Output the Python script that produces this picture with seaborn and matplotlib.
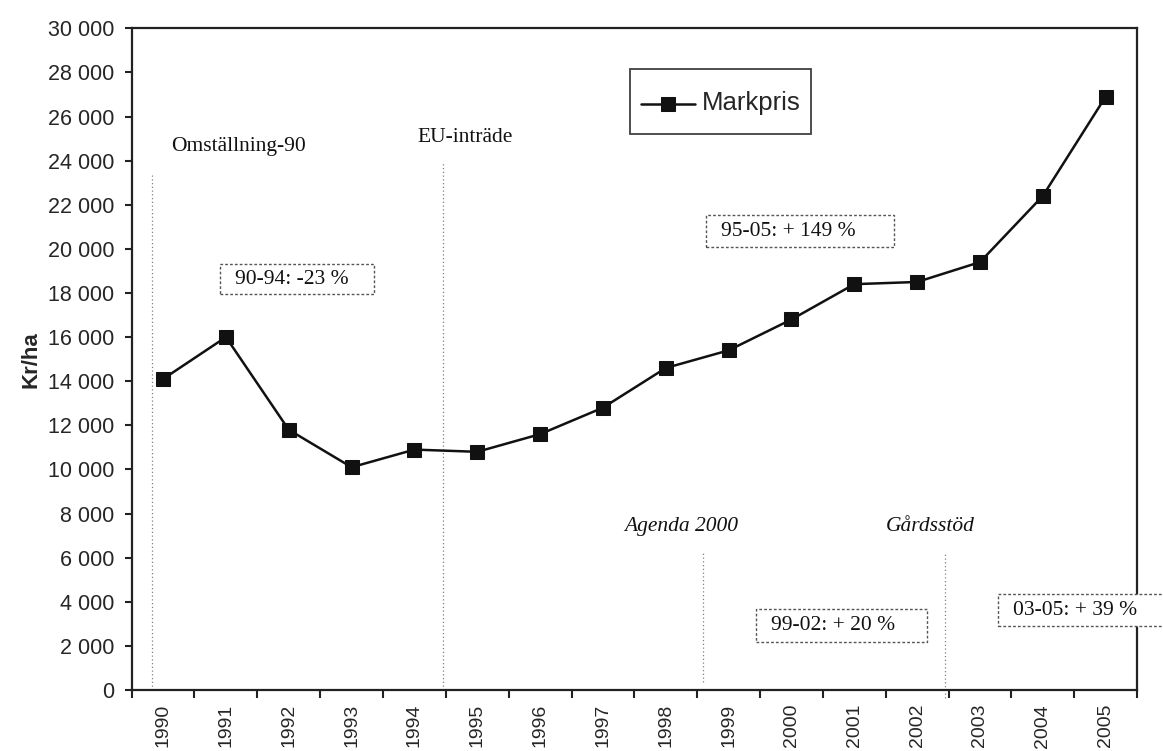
import matplotlib
matplotlib.use("Agg")
import matplotlib.pyplot as plt
from matplotlib.patches import Rectangle
from matplotlib.ticker import FixedLocator, FuncFormatter
import numpy as np
import seaborn as sns
import pandas as pd

# Land price per hectare, 1990-2005
years = [str(y) for y in range(1990, 2006)]
markpris = [14100, 16000, 11800, 10100, 10900, 10800, 11600, 12800,
            14600, 15400, 16800, 18400, 18500, 19400, 22400, 26900]

# Policy events: label, x position (category units), line top, line bottom
event_labels = ["Omställning-90", "EU-inträde", "Agenda 2000", "Gårdsstöd"]
event_x = [-0.18, 4.45, 8.59, 12.45]
event_top = [23440, 23900, 6250, 6250]
event_bottom = [0, 0, 360, -360]
event_text_x = [0.13, 4.04, 7.33, 11.5]
event_text_y = [24660, 25070, 7430, 7430]
event_italic = [False, False, True, True]

# Period change boxes: text, box x0, x1, y0, y1
period_labels = ["90-94: -23 %", "95-05: + 149 %", "99-02: + 20 %", "03-05: + 39 %"]
period_x0 = [0.905, 8.64, 9.43, 13.28]
period_x1 = [3.36, 11.63, 12.15, 16.35]
period_y0 = [17950, 20080, 2180, 2900]
period_y1 = [19310, 21530, 3670, 4350]

df = pd.DataFrame({"År": years, "Markpris": markpris})

sns.set_style("white")
plt.rcParams["font.family"] = ["Liberation Sans", "DejaVu Sans"]

fig = plt.figure(figsize=(11.63, 7.51), dpi=100)
ax = fig.add_axes([0.1132, 0.0812, 0.8645, 0.8811])

sns.lineplot(data=df, x="År", y="Markpris", ax=ax, color="#111111",
             linewidth=1.8, marker="s", markersize=10,
             markeredgecolor="#111111", markerfacecolor="#111111",
             label="Markpris", zorder=3)

ax.set_xlim(-0.5, 15.5)
ax.set_ylim(0, 30000)

# Category boundaries carry the tick marks, centres carry the labels
ax.xaxis.set_major_locator(FixedLocator([i - 0.5 for i in range(len(years) + 1)]))
ax.xaxis.set_major_formatter(FuncFormatter(lambda v, p: ""))
ax.xaxis.set_minor_locator(FixedLocator(list(range(len(years)))))
ax.set_xticks(range(len(years)), labels=years, minor=True)
ax.tick_params(axis="x", which="major", length=6, width=1.5, direction="out",
               bottom=True, color="#222222")
ax.tick_params(axis="x", which="minor", length=0, pad=10, labelsize=14,
               labelrotation=90)

ax.set_yticks(range(0, 30001, 2000))
ax.yaxis.set_major_formatter(FuncFormatter(lambda v, p: f"{int(v):,}".replace(",", " ")))
ax.tick_params(axis="y", length=5, width=1.5, direction="out", left=True,
               pad=7.5, labelsize=15.5, color="#222222")

ax.set_xlabel("")
ax.set_ylabel("Kr/ha", fontsize=16, fontweight="bold", labelpad=4.5)

for side in ["left", "right", "top", "bottom"]:
    ax.spines[side].set_visible(True)
    ax.spines[side].set_color("#222222")
    ax.spines[side].set_linewidth(1.6)

serif = ["Liberation Serif", "DejaVu Serif"]

for lab, x, top, bot, tx, ty, it in zip(event_labels, event_x, event_top,
                                        event_bottom, event_text_x,
                                        event_text_y, event_italic):
    ax.plot([x, x], [bot, top], linestyle=(0, (1, 2)), color="#808080",
            linewidth=0.9, clip_on=False, zorder=1)
    ax.text(tx, ty, lab, family=serif, fontsize=15.5,
            style="italic" if it else "normal", ha="left", va="center",
            color="#111111")

for lab, x0, x1, y0, y1 in zip(period_labels, period_x0, period_x1,
                               period_y0, period_y1):
    ax.add_patch(Rectangle((x0, y0), x1 - x0, y1 - y0, facecolor="white",
                           edgecolor="#555555", linewidth=1.0,
                           linestyle=(0, (2, 1.5)), clip_on=False, zorder=4))
    ax.text(x0 + 0.24, (y0 + y1) / 2, lab, family=serif, fontsize=15.5,
            ha="left", va="center", color="#111111", zorder=5, clip_on=False)

leg = ax.legend(loc="upper left", bbox_to_anchor=(0.496, 0.9385),
                fontsize=18.5, frameon=True, fancybox=False, shadow=False,
                handlelength=2.1, handletextpad=0.3, borderpad=0.4,
                handleheight=2.3, borderaxespad=0)
leg.get_frame().set_edgecolor("#111111")
leg.get_frame().set_linewidth(1.3)
# Centre the line-and-marker key on the label text
for h in leg.legend_handles:
    h.set_ydata(np.asarray(h.get_ydata()) - 7)

fig.savefig("out.png", dpi=100)
